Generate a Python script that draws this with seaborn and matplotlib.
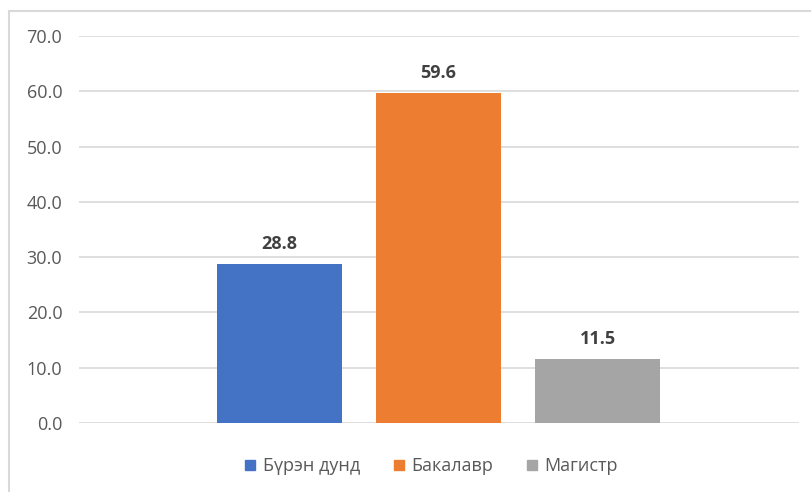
import matplotlib
matplotlib.use("Agg")
import matplotlib.pyplot as plt
import matplotlib.patches as mpatches
import seaborn as sns
import pandas as pd

categories = ["Бүрэн дунд", "Бакалавр", "Магистр"]
values = [28.8, 59.6, 11.5]
colors = ["#4472C4", "#ED7D31", "#A5A5A5"]
yticks = [0, 10, 20, 30, 40, 50, 60, 70]

df = pd.DataFrame({"level": categories, "pct": values})

sns.set_style("white")
plt.rcParams["font.family"] = ["Open Sans", "DejaVu Sans"]

fig = plt.figure(figsize=(8.11, 4.92), dpi=100)
ax = fig.add_axes([79 / 811, 1 - 423 / 492, 720 / 811, 387 / 492])

sns.barplot(data=df, x="level", y="pct", hue="level", order=categories,
            hue_order=categories, palette=colors, width=0.79, dodge=False,
            legend=False, ax=ax, saturation=1, linewidth=0)

ax.set_xlim(-1.261, 3.267)
ax.set_ylim(0, 70)
ax.set_yticks(yticks)
ax.set_yticklabels([f"{t:.1f}" for t in yticks], color="#595959", fontsize=13)
ax.set_xticks([])
ax.set_xlabel("")
ax.set_ylabel("")
ax.tick_params(axis="y", length=0, pad=12)
ax.grid(axis="y", color="#D9D9D9", linewidth=1.2)
ax.set_axisbelow(True)
for s in ax.spines.values():
    s.set_visible(False)

for i, v in enumerate(values):
    ax.text(i, v + 2.0, f"{v:.1f}", ha="center", va="bottom",
            fontsize=13, fontweight="bold", color="#404040")

handles = [mpatches.Patch(color=c) for c in colors]
ax.legend(handles, categories, loc="center", bbox_to_anchor=(0.49, -0.112),
          ncol=3, frameon=False, fontsize=13, handlelength=0.55, handleheight=0.55,
          columnspacing=1.9, handletextpad=0.4, labelcolor="#595959")

fig.patches.append(mpatches.Rectangle((9 / 811, -0.05), 1.0, 1 - 11 / 492 + 0.05,
                                      transform=fig.transFigure, fill=False,
                                      edgecolor="#D9D9D9", linewidth=1.5))

fig.savefig("out.png", dpi=100)
